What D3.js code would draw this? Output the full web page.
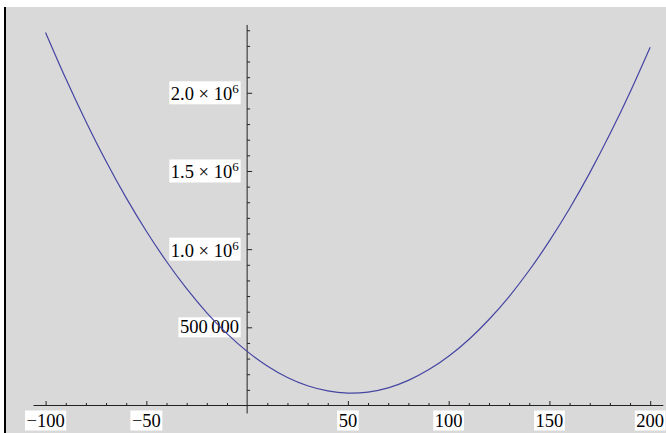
<!DOCTYPE html>
<html lang="en">
<head>
    <meta charset="UTF-8">
    <script src="https://d3js.org/d3.v7.min.js"></script>
    <title>Parabola</title>
    <style>
        body { margin: 0; background: #fff; }
        text { font-family: "Liberation Serif", "DejaVu Serif", serif; }
    </style>
</head>
<body>
    <div id="plot"></div>
<script>
    // values, every 10 units along x
    const xs = [-100, -90, -80, -70, -60, -50, -40, -30, -20, -10, 0, 10, 20, 30, 40, 50,
                60, 70, 80, 90, 100, 110, 120, 130, 140, 150, 160, 170, 180, 190, 200]
    const ys = [2385000, 2091000, 1817000, 1562000, 1328000, 1114500, 921000, 747000, 593000, 460000,
                346000, 253000, 179000, 126000, 93000, 79500, 86000, 113000, 161000, 228000,
                315000, 422000, 550000, 697000, 865000, 1052500, 1260000, 1488000, 1736000, 2004000, 2292000]

    const xMajor = [-100, -50, 50, 100, 150, 200]
    const xLabels = ["\u2212100", "\u221250", "50", "100", "150", "200"]
    const xMinor = [-90, -80, -70, -60, -40, -30, -20, -10, 10, 20, 30, 40, 60, 70, 80, 90,
                    110, 120, 130, 140, 160, 170, 180, 190]
    const yMajor = [500000, 1000000, 1500000, 2000000]
    const yMant = ["500\u2009000", "1.0", "1.5", "2.0"]
    const yMinor = [100000, 200000, 300000, 400000, 600000, 700000, 800000, 900000,
                    1100000, 1200000, 1300000, 1400000, 1600000, 1700000, 1800000, 1900000,
                    2100000, 2200000, 2300000, 2400000]

    const W = 666, H = 433
    const svg = d3.select("#plot").append("svg")
        .attr("width", W).attr("height", H)

    // 背景
    svg.append("rect").attr("x", 6).attr("y", 7).attr("width", W - 6).attr("height", H - 7)
        .attr("fill", "#d9d9d9")
    svg.append("line").attr("x1", 5).attr("x2", 5).attr("y1", 7).attr("y2", H)
        .attr("stroke", "#000").attr("stroke-width", 2)

    const x = d3.scaleLinear().domain([-100, 200]).range([45.6, 650.2])
    const y = d3.scaleLinear().domain([0, 2000000]).range([405.5, 92.8])
    const y0 = y(0), x0 = x(0)

    // x axis
    svg.append("line").attr("x1", x(-106)).attr("x2", x(206.5)).attr("y1", y0).attr("y2", y0)
        .attr("stroke", "#222")
    svg.append("g").attr("transform", "translate(0," + y0 + ")")
        .call(d3.axisBottom(x).tickValues(xMinor).tickSize(-2.5).tickFormat(""))
        .call(g => g.select(".domain").remove())
    svg.append("g").attr("transform", "translate(0," + y0 + ")")
        .call(d3.axisBottom(x).tickValues(xMajor).tickSize(-4.5).tickFormat(""))
        .call(g => g.select(".domain").remove())

    // y axis
    svg.append("line").attr("x1", x0).attr("x2", x0).attr("y1", y(2434000)).attr("y2", y0 + 8)
        .attr("stroke", "#222")
    svg.append("g").attr("transform", "translate(" + x0 + ",0)")
        .call(d3.axisRight(y).tickValues(yMinor).tickSize(3).tickFormat(""))
        .call(g => g.select(".domain").remove())
    svg.append("g").attr("transform", "translate(" + x0 + ",0)")
        .call(d3.axisRight(y).tickValues(yMajor).tickSize(5).tickFormat(""))
        .call(g => g.select(".domain").remove())
    svg.selectAll(".tick line").attr("stroke", "#222")

    // label with white box behind
    function boxed(g, pad) {
        const b = g.select("text").node().getBBox()
        g.insert("rect", "text")
            .attr("x", b.x - pad).attr("y", b.y).attr("width", b.width + 2 * pad).attr("height", b.height)
            .attr("fill", "#fff")
        return b
    }

    xMajor.forEach((v, i) => {
        const g = svg.append("g")
        g.append("text").attr("x", x(v)).attr("y", 426.5).attr("text-anchor", "middle")
            .attr("font-size", 18.5).attr("fill", "#000").text(xLabels[i])
        boxed(g, 1.5)
    })

    yMajor.forEach((v, i) => {
        const g = svg.append("g")
        const t = g.append("text").attr("x", 0).attr("y", 0).attr("font-size", 18.5).attr("fill", "#000")
        if (i === 0) {
            t.text(yMant[i])
        } else {
            t.append("tspan").text(yMant[i] + "\u2005\u00d7\u200510")
            t.append("tspan").attr("font-size", 13).attr("dy", -7).text("6")
        }
        const b = boxed(g, 1.5)
        const tx = x0 - 6.5 - (b.x + b.width + 1.5)
        const ty = y(v) - (b.y + b.height / 2)
        g.attr("transform", "translate(" + tx + "," + ty + ")")
    })

    // curve
    const pts = xs.map((v, i) => [v, ys[i]])
    svg.append("path").datum(pts)
        .attr("fill", "none").attr("stroke", "#4545a3").attr("stroke-width", 1.2)
        .attr("d", d3.line().x(d => x(d[0])).y(d => y(d[1])).curve(d3.curveNatural))
</script>
</body>
</html>
